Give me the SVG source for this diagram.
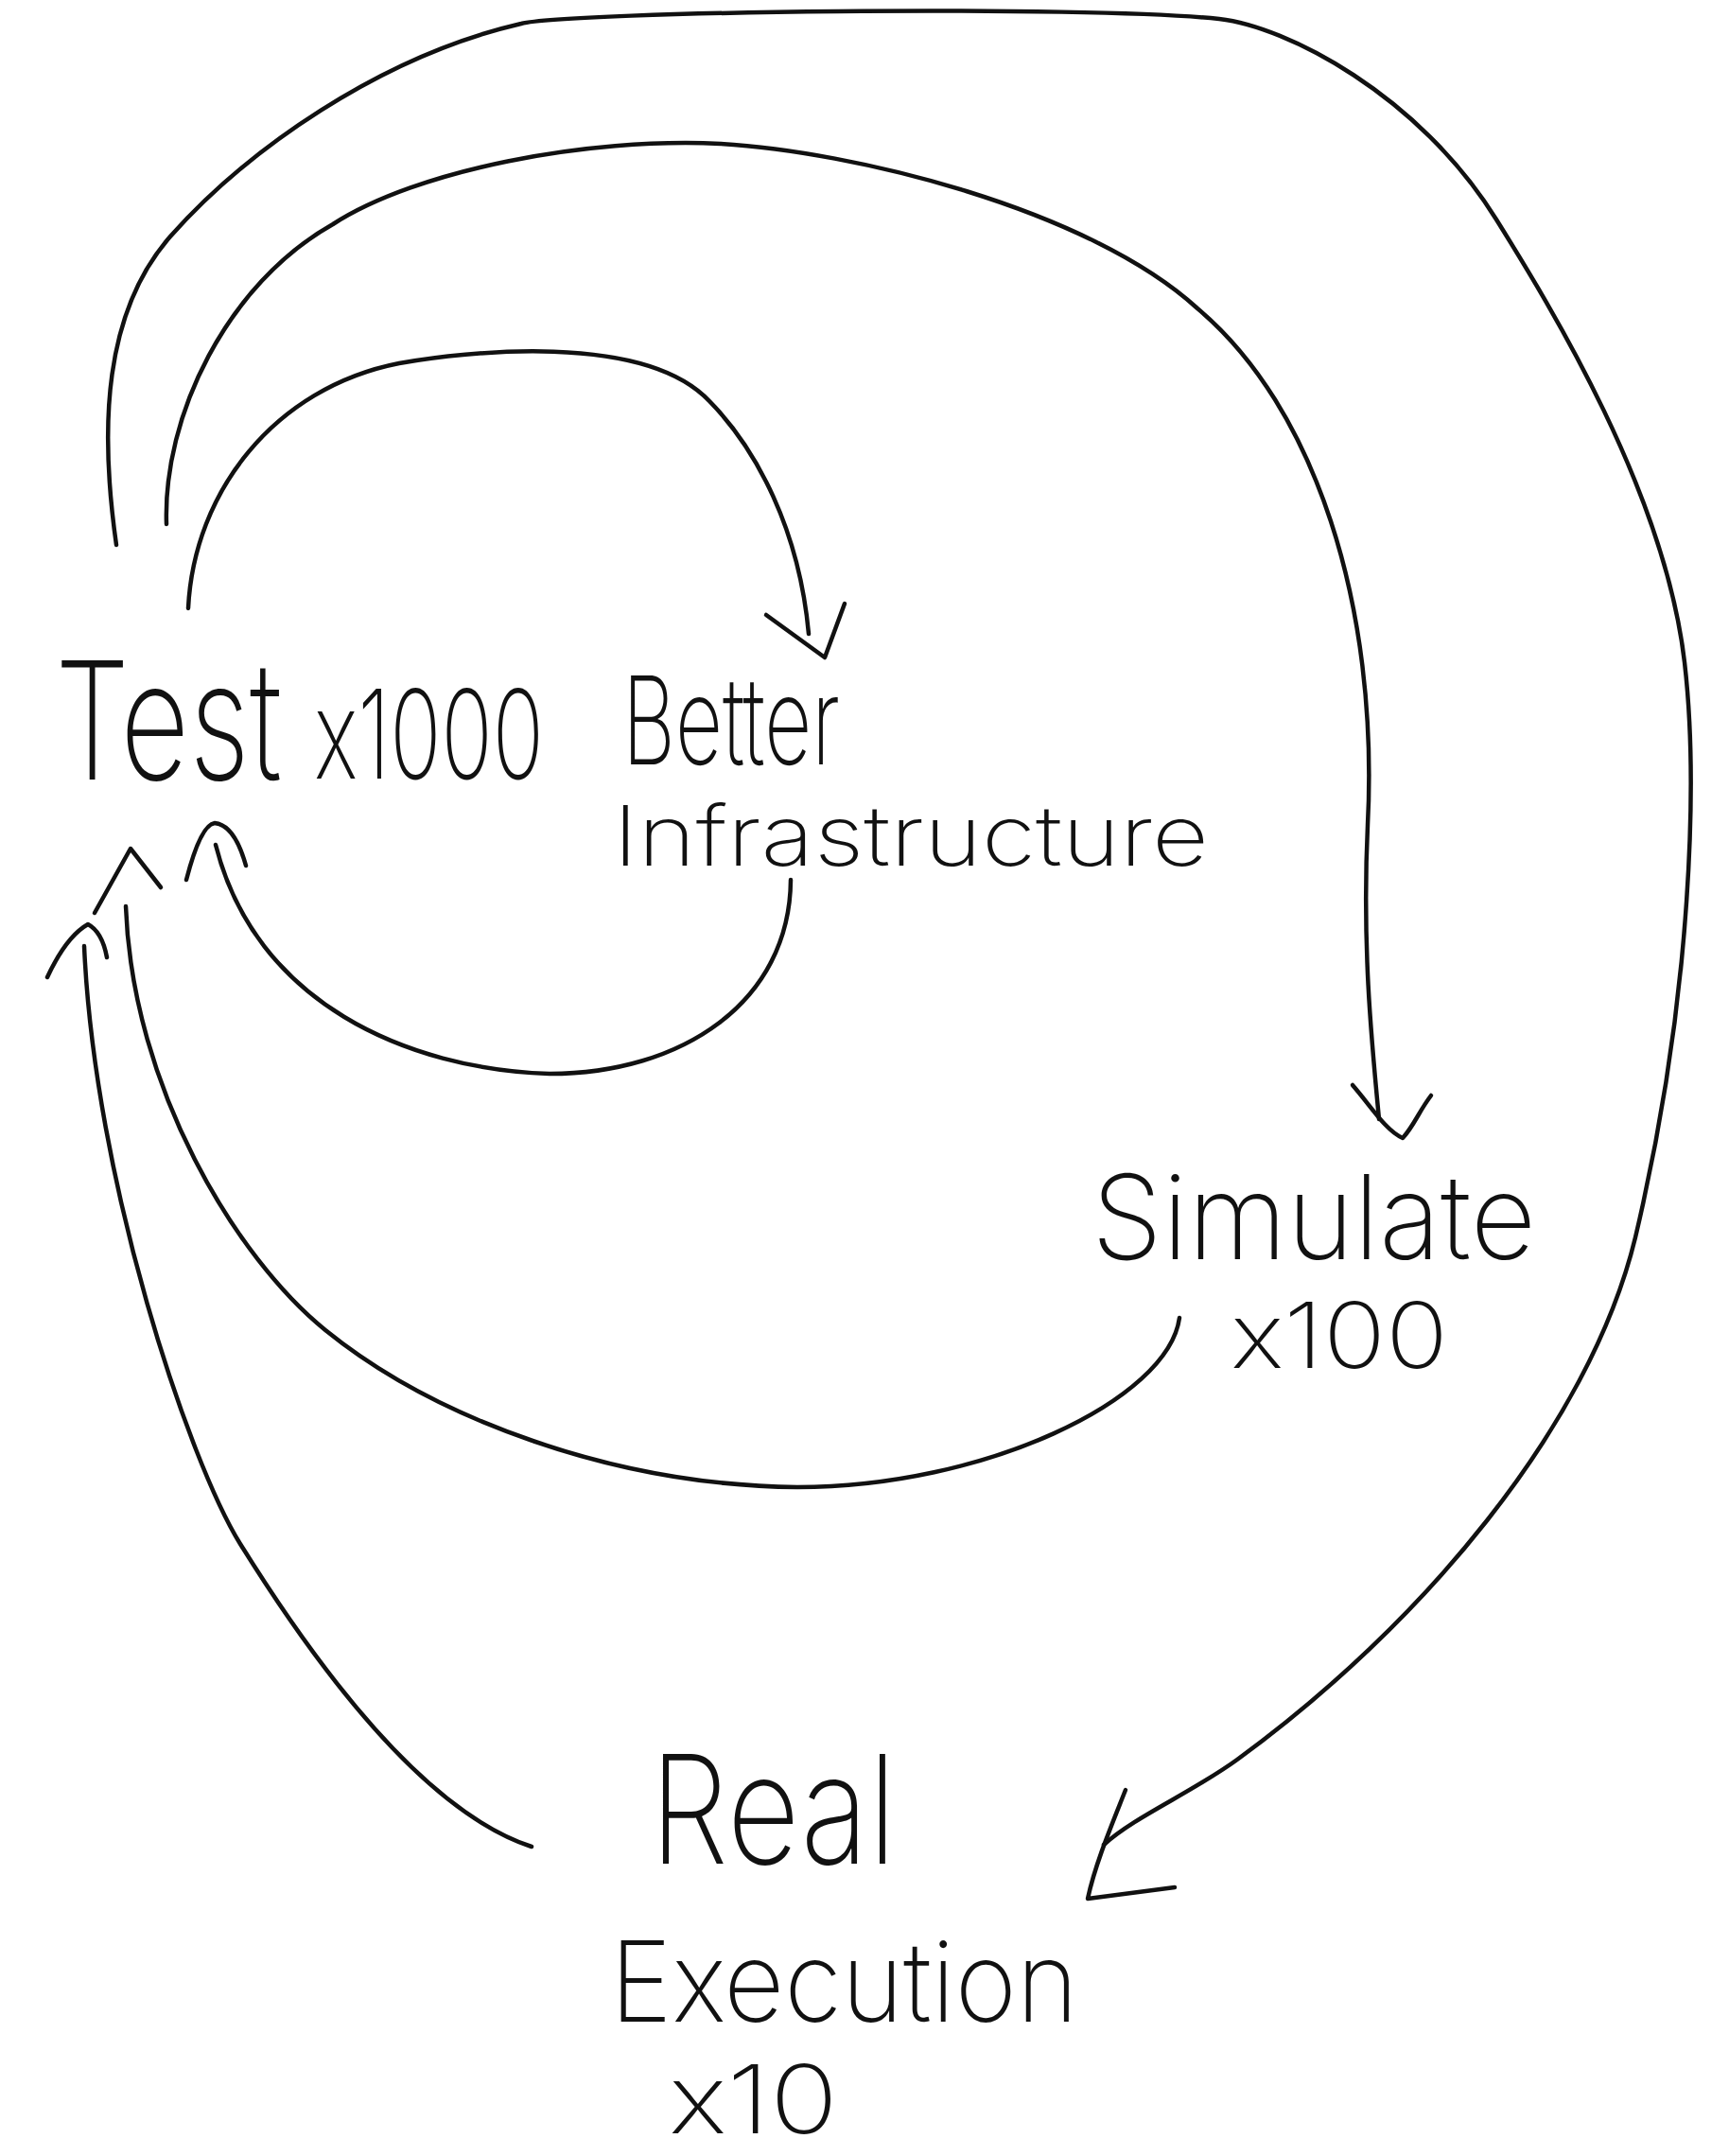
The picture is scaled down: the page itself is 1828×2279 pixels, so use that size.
<svg xmlns="http://www.w3.org/2000/svg" width="1828" height="2279" viewBox="0 0 1828 2279">
<style>
.bg{fill:#ffffff}
.ln{fill:none;stroke:#111111;stroke-width:4.5;stroke-linecap:round;stroke-linejoin:round}
.t{font-family:"Inter","Open Sans","Liberation Sans",sans-serif;font-weight:200;fill:#111111}
</style>
<rect class="bg" x="0" y="0" width="1828" height="2279"/>
<g id="connectors">
  <!-- Test -> Real Execution (outer loop) -->
  <path class="ln" d="M123,576 C105,450 110,330 180,250 C260,160 400,60 551,25 C600,12 1150,5 1289,20 C1360,28 1500,100 1582,232 C1640,325 1760,520 1781,700 C1795,820 1790,1050 1729,1308 C1680,1510 1500,1720 1308,1860 C1260,1895 1200,1920 1167,1950"/>
  <path class="ln" d="M1190,1892 C1175,1930 1158,1970 1150,2007 L1242,1995"/>
  <!-- Test -> Simulate (middle loop) -->
  <path class="ln" d="M176,554 C172,440 240,300 352,237 C440,180 620,145 762,152 C900,160 1150,220 1266,326 C1390,430 1458,640 1446,872 C1440,1000 1450,1100 1458,1183"/>
  <path class="ln" d="M1430,1147 C1450,1170 1465,1195 1483,1203 C1495,1190 1500,1175 1513,1158"/>
  <!-- Test -> Better Infrastructure (inner loop) -->
  <path class="ln" d="M199,643 C205,520 290,410 422,384 C490,372 680,350 750,424 C800,475 845,560 855,670"/>
  <path class="ln" d="M810,650 L872,695 L893,638"/>
  <!-- Better Infrastructure -> Test -->
  <path class="ln" d="M836,930 C835,1060 720,1135 581,1135 C430,1130 270,1060 228,893"/>
  <path class="ln" d="M197,930 Q212,872 227,870 Q248,872 260,915"/>
  <!-- Simulate -> Test -->
  <path class="ln" d="M1247,1393 C1235,1480 1040,1572 843,1572 C650,1570 460,1500 344,1406 C250,1330 140,1150 133,958"/>
  <path class="ln" d="M100,965 L138,897 L170,938"/>
  <!-- Real Execution -> Test -->
  <path class="ln" d="M562,1952 C450,1915 340,1770 254,1632 C200,1545 100,1250 89,1000"/>
  <path class="ln" d="M50,1033 Q70,990 93,977 Q108,985 113,1012"/>
</g>
<g id="node-test">
  <text class="t" transform="translate(58,824) scale(1,1.4)" x="0" y="0" font-size="124" textLength="240" lengthAdjust="spacingAndGlyphs">Test</text>
  <text class="t" x="332" y="823" font-size="130" textLength="243" lengthAdjust="spacingAndGlyphs">x1000</text>
</g>
<g id="node-better-infrastructure">
  <text class="t" transform="translate(658,808) scale(1,1.4)" x="0" y="0" font-size="92" textLength="230" lengthAdjust="spacingAndGlyphs">Better</text>
  <text class="t" x="648" y="915" font-size="88" textLength="630" lengthAdjust="spacingAndGlyphs">Infrastructure</text>
</g>
<g id="node-simulate">
  <text class="t" x="1154" y="1331" font-size="124" textLength="470" lengthAdjust="spacingAndGlyphs">Simulate</text>
  <text class="t" x="1301" y="1446" font-size="96" textLength="230" lengthAdjust="spacingAndGlyphs">x100</text>
</g>
<g id="node-real-execution">
  <text class="t" x="687" y="1970" font-size="160" textLength="261" lengthAdjust="spacingAndGlyphs">Real</text>
  <text class="t" x="645" y="2137" font-size="118" textLength="495" lengthAdjust="spacingAndGlyphs">Execution</text>
  <text class="t" x="707" y="2255" font-size="100" textLength="179" lengthAdjust="spacingAndGlyphs">x10</text>
</g>
</svg>
